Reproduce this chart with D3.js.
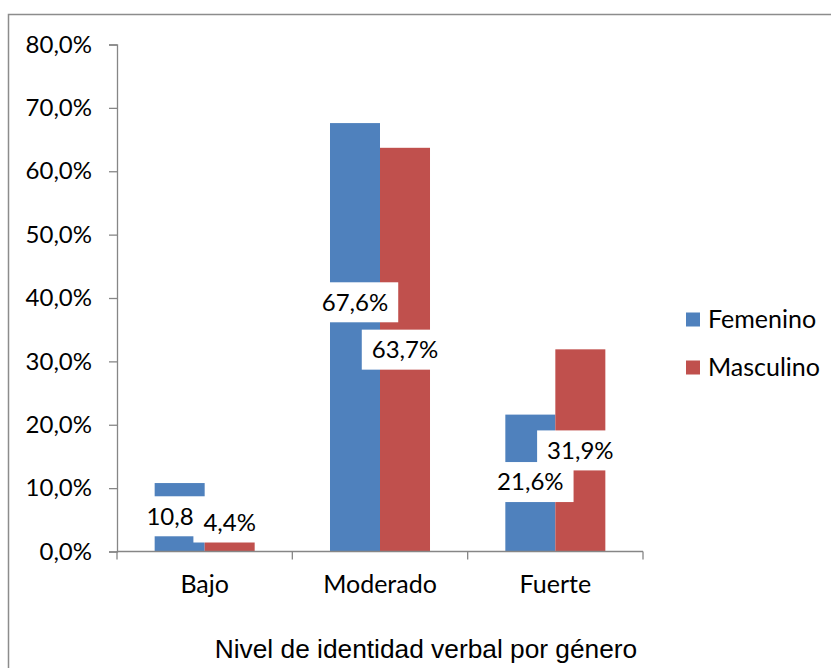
<!DOCTYPE html>
<html>
<head>
<meta charset="utf-8">
<script src="https://cdn.jsdelivr.net/npm/d3@7"></script>
<style>
  html, body { margin: 0; padding: 0; background: #fff; }
  svg { display: block; }
</style>
</head>
<body>
<svg id="chart" width="831" height="668"></svg>
<script>
// Nivel de identidad verbal, porcentaje por género
const categories = ["Bajo", "Moderado", "Fuerte"];
const seriesNames = ["Femenino", "Masculino"];
const femenino = [10.8, 67.6, 21.6];
const masculino = [4.4, 63.7, 31.9];
const yTicks = [0, 10, 20, 30, 40, 50, 60, 70, 80];
const xTitle = "Nivel de identidad verbal por género";

const colors = ["#4F81BD", "#C0504D"];
// vertical nudges (px) for value labels, per series and category
const labelShift = [[-1, -35, -1], [0, 0, 0]];

const svg = d3.select("#chart");
const labelFont = "Lato, Carlito, Calibri, sans-serif";

// outer chart frame
svg.append("rect")
  .attr("x", 8.5).attr("y", 14.5)
  .attr("width", 840).attr("height", 700)
  .attr("fill", "#fff")
  .attr("stroke", "#8c8c8c").attr("stroke-width", 1.5);

const plot = { left: 117, right: 643, top: 44.5, bottom: 551.5 };

const x = d3.scaleBand().domain(categories).range([plot.left, plot.right]).padding(0);
const bw = x.bandwidth();
const gap = bw * 0.2148;
const xs = d3.scaleBand().domain(seriesNames).range([gap, bw - gap]).padding(0);
const y = d3.scaleLinear().domain([0, 80]).range([plot.bottom, plot.top]);

const fmt = v => d3.format(".1f")(v).replace(".", ",") + "%";

// y axis
const yAxis = svg.append("g")
  .attr("transform", `translate(${plot.left},0)`)
  .call(d3.axisLeft(y).tickValues(yTicks).tickSize(8).tickPadding(17).tickFormat(fmt));
yAxis.select(".domain").attr("stroke", "#868686").attr("stroke-width", 1.3);
yAxis.selectAll(".tick line").attr("stroke", "#868686").attr("stroke-width", 1.3);
yAxis.selectAll(".tick text")
  .attr("font-family", labelFont).attr("font-size", 24).attr("fill", "#000");

// bars
const series = [femenino, masculino];
series.forEach((vals, si) => {
  svg.append("g").selectAll("rect")
    .data(vals)
    .join("rect")
    .attr("x", (d, i) => x(categories[i]) + xs(seriesNames[si]))
    .attr("y", d => y(d))
    .attr("width", xs.bandwidth())
    .attr("height", d => y(0) - y(d))
    .attr("fill", colors[si]);
});

// x axis
const xAxis = svg.append("g").attr("transform", `translate(0,${plot.bottom})`);
xAxis.append("line")
  .attr("x1", plot.left).attr("x2", plot.right)
  .attr("stroke", "#868686").attr("stroke-width", 1.3);
const bounds = categories.map(c => x(c)).concat([plot.right]);
xAxis.selectAll("line.tick").data(bounds).join("line")
  .attr("class", "tick")
  .attr("x1", d => d).attr("x2", d => d)
  .attr("y1", 0).attr("y2", 8)
  .attr("stroke", "#868686").attr("stroke-width", 1.3);
xAxis.selectAll("text").data(categories).join("text")
  .attr("x", d => x(d) + bw / 2)
  .attr("y", 41.5)
  .attr("text-anchor", "middle")
  .attr("font-family", labelFont).attr("font-size", 25).attr("fill", "#000")
  .text(d => d);

// value labels on white boxes
const boxH = 40, padX = 10;
series.forEach((vals, si) => {
  vals.forEach((v, i) => {
    const cx = x(categories[i]) + xs(seriesNames[si]) + xs.bandwidth() / 2;
    let cy = y(v / 2) + labelShift[si][i];
    cy = Math.min(cy, y(0) - 9 - boxH / 2);
    const g = svg.append("g");
    const t = g.append("text")
      .attr("x", cx).attr("y", cy)
      .attr("dy", "0.35em")
      .attr("text-anchor", "middle")
      .attr("font-family", labelFont).attr("font-size", 24).attr("fill", "#000")
      .text(fmt(v));
    const w = t.node().getComputedTextLength() + padX * 2;
    g.insert("rect", "text")
      .attr("x", cx - w / 2).attr("y", cy - boxH / 2)
      .attr("width", w).attr("height", boxH)
      .attr("fill", "#fff");
  });
});

// legend
const legend = svg.append("g");
seriesNames.forEach((name, si) => {
  const ly = 319.5 + si * 48;
  legend.append("rect")
    .attr("x", 686).attr("y", ly - 7)
    .attr("width", 14).attr("height", 14)
    .attr("fill", colors[si]);
  legend.append("text")
    .attr("x", 708).attr("y", ly)
    .attr("dy", "0.35em")
    .attr("font-family", labelFont).attr("font-size", 25).attr("fill", "#000")
    .text(name);
});

// axis title
svg.append("text")
  .attr("x", 426).attr("y", 658)
  .attr("text-anchor", "middle")
  .attr("font-family", "'Liberation Sans', Arial, sans-serif")
  .attr("font-size", 26.3).attr("fill", "#000")
  .text(xTitle);
</script>
</body>
</html>
